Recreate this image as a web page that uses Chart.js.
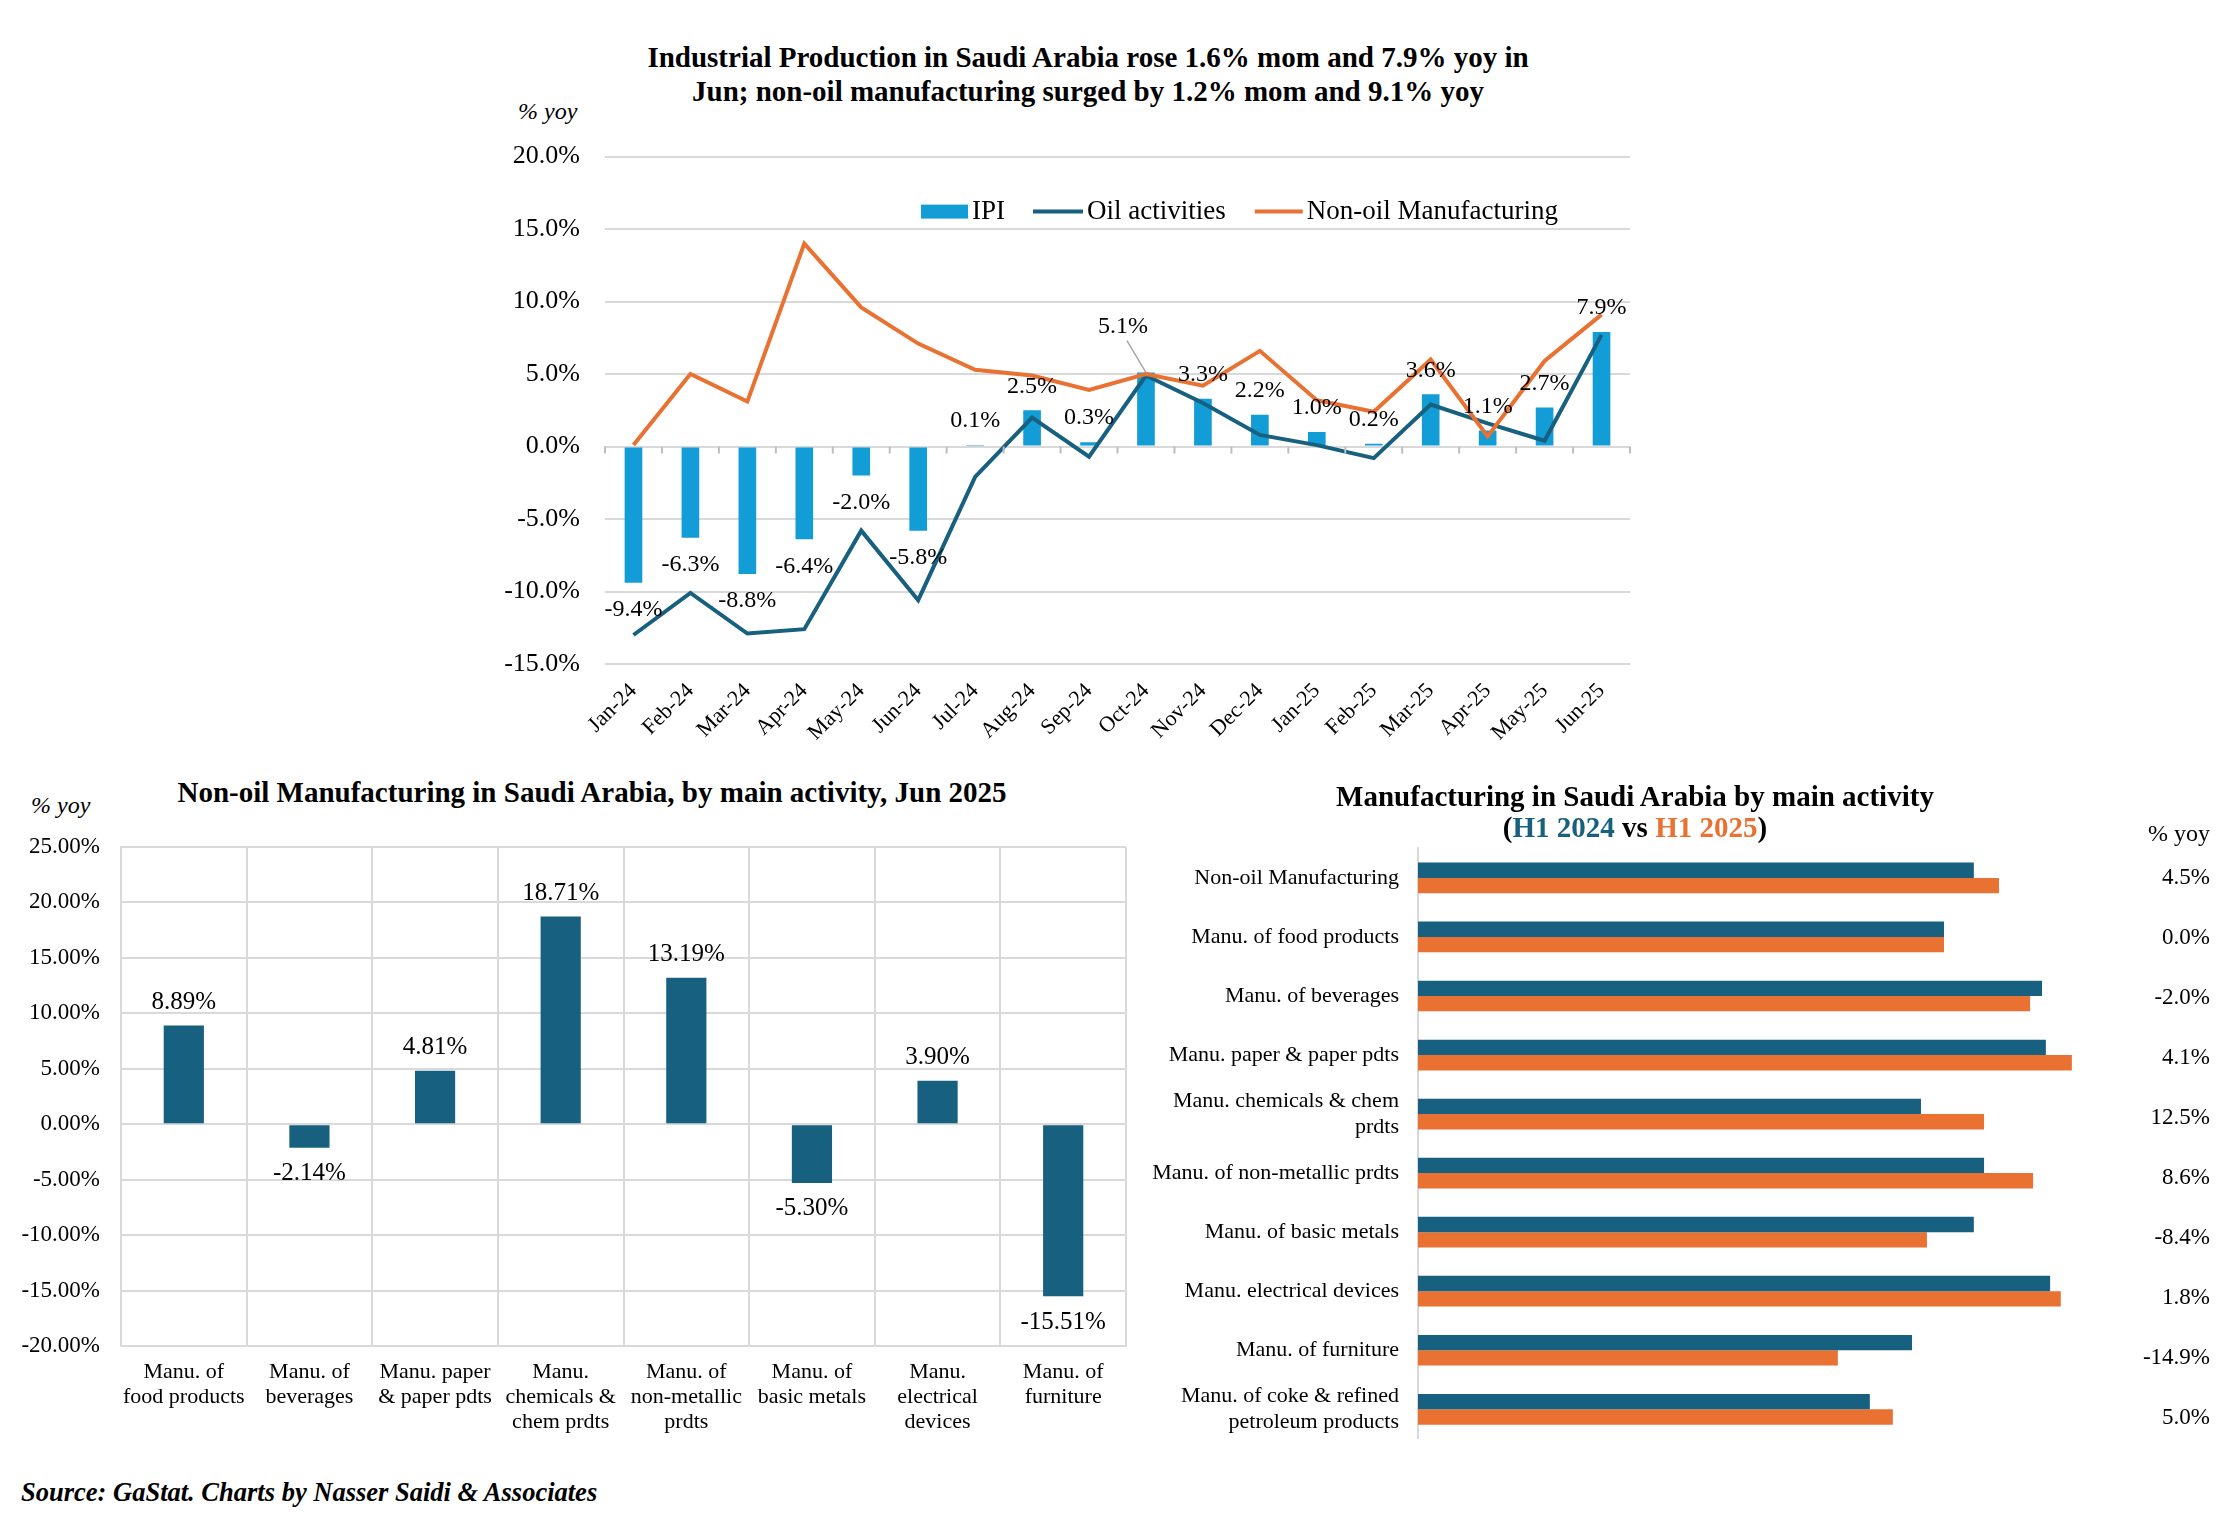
<!DOCTYPE html>
<html>
<head>
<meta charset="utf-8">
<script src="https://cdn.jsdelivr.net/npm/chart.js@4.4.1/dist/chart.umd.min.js"></script>
<style>
body { margin: 0; background: #fff; }
#page { position: relative; width: 2234px; height: 1534px; font-family: 'Liberation Serif', 'Times New Roman', serif; color: #000; background: #fff; }
.txt { position: absolute; white-space: nowrap; }
canvas { position: absolute; }
</style>
</head>
<body>
<div id="page">
  <div class="txt" style="left:0;width:2176px;top:40px;text-align:center;font-weight:bold;font-size:29px;line-height:34px;">Industrial Production in Saudi Arabia rose 1.6% mom and 7.9% yoy in<br>Jun; non-oil manufacturing surged by 1.2% mom and 9.1% yoy</div>
  <div class="txt" style="left:518px;top:97px;font-style:italic;font-size:24px;line-height:28px;">% yoy</div>
  <canvas id="topChart" style="left:470px;top:116px;width:1180px;height:638px;" width="1180" height="638"></canvas>

  <div class="txt" style="left:0;width:1184px;top:776px;text-align:center;font-weight:bold;font-size:29px;line-height:32px;">Non-oil Manufacturing in Saudi Arabia, by main activity, Jun 2025</div>
  <div class="txt" style="left:31px;top:791px;font-style:italic;font-size:24px;line-height:28px;">% yoy</div>
  <canvas id="leftChart" style="left:10px;top:812px;width:1130px;height:638px;" width="1130" height="638"></canvas>

  <div class="txt" style="left:1135px;width:1000px;top:781px;text-align:center;font-weight:bold;font-size:29px;line-height:31px;">Manufacturing in Saudi Arabia by main activity<br>(<span style="color:#17607f">H1 2024</span> vs <span style="color:#e97132">H1 2025</span>)</div>
  <div class="txt" style="left:2110px;width:100px;top:819px;text-align:right;font-size:24px;line-height:28px;">% yoy</div>
  <canvas id="rightChart" style="left:1150px;top:803px;width:1084px;height:668px;" width="1084" height="668"></canvas>

  <div class="txt" style="left:21px;top:1477px;font-weight:bold;font-style:italic;font-size:26.5px;line-height:30px;">Source: GaStat. Charts by Nasser Saidi &amp; Associates</div>
</div>
<script>
// top chart: IPI, oil, non-oil (% yoy)
const months = ['Jan-24', 'Feb-24', 'Mar-24', 'Apr-24', 'May-24', 'Jun-24', 'Jul-24', 'Aug-24', 'Sep-24',
    'Oct-24', 'Nov-24', 'Dec-24', 'Jan-25', 'Feb-25', 'Mar-25', 'Apr-25', 'May-25', 'Jun-25'];
const ipi = [-9.4, -6.3, -8.8, -6.4, -2.0, -5.8, 0.1, 2.5, 0.3, 5.1, 3.3, 2.2, 1.0, 0.2, 3.6, 1.1, 2.7, 7.9];
const oil = [-13.0, -10.1, -12.9, -12.6, -5.8, -10.6, -2.1, 2.0, -0.7, 4.9, 3.0, 0.8, 0.1, -0.8, 2.9, 1.6, 0.4, 7.7];
const nonOil = [0.1, 5.0, 3.1, 14.0, 9.6, 7.1, 5.3, 4.9, 3.9, 5.0, 4.2, 6.6, 3.2, 2.4, 6.0, 0.7, 5.9, 9.1];
const topTicks = [-15, -10, -5, 0, 5, 10, 15, 20];

// bottom left: non-oil manufacturing by activity, Jun 2025
const activities = [['Manu. of', 'food products'], ['Manu. of', 'beverages'], ['Manu. paper', '& paper pdts'],
    ['Manu.', 'chemicals &', 'chem prdts'], ['Manu. of', 'non-metallic', 'prdts'], ['Manu. of', 'basic metals'],
    ['Manu.', 'electrical', 'devices'], ['Manu. of', 'furniture']];
const junValues = [8.89, -2.14, 4.81, 18.71, 13.19, -5.30, 3.90, -15.51];

// bottom right: H1 2024 vs H1 2025 (index levels)
const sectors = ['Non-oil Manufacturing', 'Manu. of food products', 'Manu. of beverages', 'Manu. paper & paper pdts',
    ['Manu. chemicals & chem', 'prdts'], 'Manu. of non-metallic prdts', 'Manu. of basic metals',
    'Manu. electrical devices', 'Manu. of furniture', ['Manu. of coke & refined', 'petroleum products']];
const h1_2024 = [130.4, 123.4, 146.4, 147.3, 118.0, 132.8, 130.4, 148.3, 115.9, 106.0];
const h1_2025 = [136.3, 123.4, 143.6, 153.4, 132.8, 144.3, 119.4, 150.8, 98.5, 111.4];
const yoyChange = [4.5, 0.0, -2.0, 4.1, 12.5, 8.6, -8.4, 1.8, -14.9, 5.0];

const TEAL = '#17607f';
const ORANGE = '#e97132';
const BLUE = '#139dd6';
const GRID = '#d9d9d9';
const FONT = '"Liberation Serif", "Times New Roman", serif';

Chart.defaults.font.family = FONT;
Chart.defaults.color = '#000';
Chart.defaults.animation = false;

const topExtras = {
    id: 'topExtras',
    afterDatasetsDraw(chart) {
        const ctx = chart.ctx;
        const area = chart.chartArea;
        const y0 = chart.scales.y.getPixelForValue(0);
        const step = (area.right - area.left) / months.length;
        ctx.save();
        ctx.strokeStyle = '#bfbfbf';
        ctx.lineWidth = 2;
        for (let i = 0; i <= months.length; i++) {
            ctx.beginPath();
            ctx.moveTo(area.left + i * step, y0);
            ctx.lineTo(area.left + i * step, y0 + 7);
            ctx.stroke();
        }
        ctx.font = '24px ' + FONT;
        ctx.textAlign = 'center';
        ctx.textBaseline = 'middle';
        ctx.fillStyle = '#000';
        const barMeta = chart.getDatasetMeta(2);
        barMeta.data.forEach((bar, i) => {
            const v = ipi[i];
            let lx = bar.x;
            let ly = v >= 0 ? bar.y - 24 : bar.y + 27;
            if (i === 9) {
                lx -= 23;
                ly -= 22;
                ctx.strokeStyle = '#a6a6a6';
                ctx.lineWidth = 1.5;
                ctx.beginPath();
                ctx.moveTo(lx + 4, ly + 14);
                ctx.lineTo(bar.x, bar.y);
                ctx.stroke();
            }
            ctx.fillText(v.toFixed(1) + '%', lx, ly);
        });

        // legend inside the plot
        ctx.font = '27px ' + FONT;
        ctx.textAlign = 'left';
        const ly = area.top + 55;
        let lx = area.left + 316;
        ctx.fillStyle = BLUE;
        ctx.fillRect(lx, ly - 7, 47, 14);
        lx += 51;
        ctx.fillStyle = '#000';
        ctx.fillText('IPI', lx, ly);
        lx += ctx.measureText('IPI').width + 28;
        const lineItem = (color, label, len) => {
            ctx.strokeStyle = color;
            ctx.lineWidth = 4;
            ctx.beginPath();
            ctx.moveTo(lx, ly);
            ctx.lineTo(lx + len, ly);
            ctx.stroke();
            lx += len + 4;
            ctx.fillStyle = '#000';
            ctx.fillText(label, lx, ly);
            lx += ctx.measureText(label).width + 29;
        };
        lineItem(TEAL, 'Oil activities', 50);
        lineItem(ORANGE, 'Non-oil Manufacturing', 48);
        ctx.restore();
    }
};

new Chart(document.getElementById('topChart'), {
    data: {
        labels: months,
        datasets: [
            { type: 'line', label: 'Non-oil Manufacturing', data: nonOil, borderColor: ORANGE, borderWidth: 4,
              pointRadius: 0, order: 1 },
            { type: 'line', label: 'Oil activities', data: oil, borderColor: TEAL, borderWidth: 4,
              pointRadius: 0, order: 2 },
            { type: 'bar', label: 'IPI', data: ipi, backgroundColor: BLUE, barPercentage: 0.31,
              categoryPercentage: 1, order: 3 }
        ]
    },
    options: {
        responsive: false,
        devicePixelRatio: 1,
        layout: { padding: { top: 16, right: 20, left: 0, bottom: 0 } },
        plugins: { legend: { display: false }, tooltip: { enabled: false } },
        scales: {
            x: {
                grid: { display: false },
                border: { display: false },
                ticks: { font: { size: 22 }, minRotation: 45, maxRotation: 45, padding: 6 },
                afterFit(s) { s.height = 90; }
            },
            y: {
                min: -15, max: 20,
                afterBuildTicks(s) { s.ticks = topTicks.map(v => ({ value: v })); },
                grid: { color: GRID, lineWidth: 2, drawTicks: false },
                border: { display: false },
                ticks: { font: { size: 26 }, padding: 25, callback: v => v.toFixed(1) + '%' },
                afterFit(s) { s.width = 135; }
            }
        }
    },
    plugins: [topExtras]
});

// draw values above/below the bars
const barValueLabels = {
    id: 'barValueLabels',
    afterDatasetsDraw(chart) {
        const ctx = chart.ctx;
        ctx.save();
        ctx.font = '25px ' + FONT;
        ctx.textAlign = 'center';
        ctx.textBaseline = 'middle';
        ctx.fillStyle = '#000';
        chart.getDatasetMeta(0).data.forEach((bar, i) => {
            const v = junValues[i];
            ctx.fillText(v.toFixed(2) + '%', bar.x, v >= 0 ? bar.y - 23 : bar.y + 26);
        });
        ctx.restore();
    }
};

new Chart(document.getElementById('leftChart'), {
    type: 'bar',
    data: {
        labels: activities,
        datasets: [{ label: 'Jun 2025', data: junValues, backgroundColor: TEAL, barPercentage: 0.32, categoryPercentage: 1 }]
    },
    options: {
        responsive: false,
        devicePixelRatio: 1,
        layout: { padding: { top: 15, right: 14, left: 0, bottom: 0 } },
        plugins: { legend: { display: false }, tooltip: { enabled: false } },
        scales: {
            x: {
                grid: { color: GRID, lineWidth: 2, drawTicks: false },
                border: { color: GRID, width: 2 },
                ticks: { font: { size: 22, lineHeight: 1.13 }, padding: 14, maxRotation: 0 },
                afterFit(s) { s.height = 104; }
            },
            y: {
                min: -20, max: 25,
                ticks: { stepSize: 5, font: { size: 23 }, padding: 21, callback: v => v.toFixed(2) + '%' },
                grid: { color: GRID, lineWidth: 2, drawTicks: false },
                border: { color: GRID, width: 2 },
                afterFit(s) { s.width = 111; }
            }
        }
    },
    plugins: [barValueLabels]
});

// yoy column to the right of the horizontal bars
const yoyColumn = {
    id: 'yoyColumn',
    afterDraw(chart) {
        const ctx = chart.ctx;
        const area = chart.chartArea;
        const ys = chart.scales.y;
        ctx.save();
        ctx.font = '23px ' + FONT;
        ctx.textAlign = 'right';
        ctx.textBaseline = 'middle';
        ctx.fillStyle = '#000';
        yoyChange.forEach((v, i) => {
            ctx.fillText(v.toFixed(1) + '%', area.right + 110, ys.getPixelForValue(i) + i);
        });
        ctx.restore();
    }
};

new Chart(document.getElementById('rightChart'), {
    type: 'bar',
    data: {
        labels: sectors,
        datasets: [
            { label: 'H1 2024', data: h1_2024, backgroundColor: TEAL, barPercentage: 1, categoryPercentage: 0.52 },
            { label: 'H1 2025', data: h1_2025, backgroundColor: ORANGE, barPercentage: 1, categoryPercentage: 0.52 }
        ]
    },
    options: {
        indexAxis: 'y',
        responsive: false,
        devicePixelRatio: 1,
        layout: { padding: { top: 7, right: 134, left: 0, bottom: 2 } },
        plugins: { legend: { display: false }, tooltip: { enabled: false } },
        scales: {
            x: { display: false, min: 0, max: 160 },
            y: {
                grid: { display: false, drawTicks: false },
                border: { color: GRID, width: 2 },
                ticks: { font: { size: 22, lineHeight: 1.2 }, padding: 19 },
                afterFit(s) { s.width = 268; }
            }
        }
    },
    plugins: [yoyColumn]
});
</script>
</body>
</html>
